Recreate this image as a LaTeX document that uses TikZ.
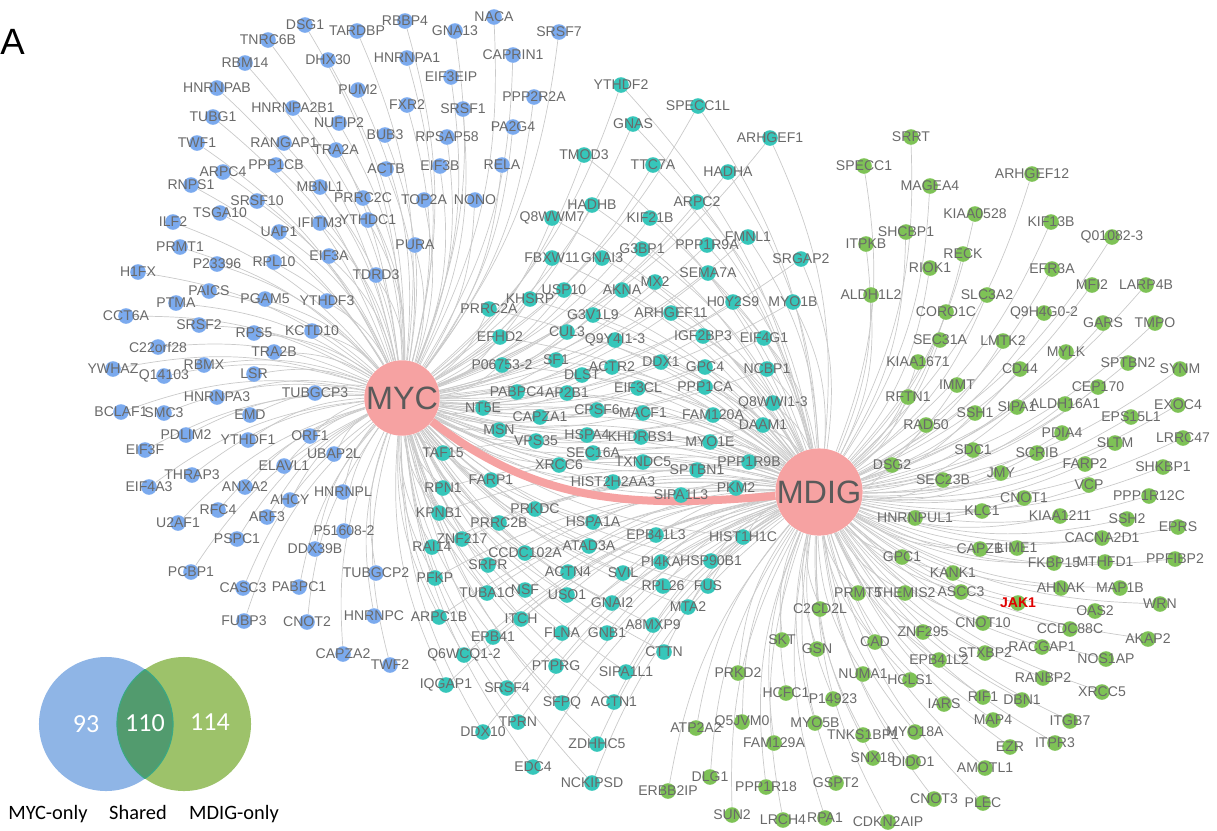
\documentclass[tikz,border=0pt]{standalone}
\usepackage{fontspec}
\setmainfont{Liberation Sans}
\newfontfamily\vennfont{Carlito}
\pgfdeclarelayer{background}
\pgfsetlayers{background,main}
\definecolor{mycblue}{HTML}{7BAAEE}
\definecolor{sharedteal}{HTML}{36C6BA}
\definecolor{mdiggreen}{HTML}{7EC256}
\definecolor{hubpink}{HTML}{F6A2A2}
\definecolor{hubtext}{HTML}{5A5A5A}
\definecolor{labelgray}{HTML}{6A6A6A}
\definecolor{edgegray}{HTML}{CACACA}
\definecolor{jakred}{HTML}{E00000}
\definecolor{vennblue}{HTML}{8FB5E6}
\definecolor{venngreen}{HTML}{9DC26A}
\definecolor{vennshared}{HTML}{529B6E}
\definecolor{vennrim}{HTML}{3AA884}
\tikzset{
  protein/.style={circle, inner sep=0pt, minimum size=0.39cm},
  myconly/.style={protein, fill=mycblue},
  shared/.style={protein, fill=sharedteal},
  mdigonly/.style={protein, fill=mdiggreen},
  lbl/.style={text=labelgray, inner sep=0pt},
  hub/.style={circle, fill=hubpink, text=hubtext, inner sep=0pt, font=\fontsize{23}{26}\selectfont},
  conn/.style={draw=edgegray, line width=0.5pt},
  link/.style={draw=hubpink, line width=0.2cm},
  venntext/.style={font=\vennfont\fontsize{18.5}{22}\selectfont, text=white, inner sep=0pt},
  vennlabel/.style={font=\vennfont\fontsize{14.5}{17}\selectfont, inner sep=0pt, anchor=base},
}
% partner lists: gene/x/y in pixels of the original figure
\def\myconlylist{DSG1/305/25, TNRC6B/268/40, TARDBP/357/31, RBBP4/405/21, GNA13/455/31, NACA/494/17, SRSF7/559/32, RBM14/245/63, DHX30/328/60, HNRNPA1/407/58, CAPRIN1/513/55, HNRNPAB/217/88, EIF3EIP/451/77, PUM2/358/90, TUBG1/213/117, HNRNPA2B1/293/108, FXR2/407/105, SRSF1/463/109, PPP2R2A/534/97, NUFIP2/339/123, TWF1/197/143, RANGAP1/284/143, BUB3/385/135, RPSAP58/447/137, PA2G4/513/127, ARPC4/223/172, PPP1CB/276/165, TRA2A/336/150, ACTB/386/169, EIF3B/440/166, RELA/502/165, RNPS1/191/185, SRSF10/257/201, MBNL1/320/187, PRRC2C/363/198, TOP2A/424/200, NONO/475/200, TSGA10/220/213, ILF2/173/222, UAP1/279/232, IFITM3/320/223, YTHDC1/368/220, PRMT1/180/247, PURA/415/245, RPL10/274/262, EIF3A/329/256, P23396/217/264, H1FX/138/272, TDRD3/376/275, PAICS/209/291, PGAM5/265/299, YTHDF3/327/301, PTMA/176/303, CCT6A/126/316, SRSF2/199/325, RPS5/254/333, KCTD10/312/331, C22orf28/158/347, TRA2B/274/352, YWHAZ/113/369, RBMX/204/365, Q14103/164/376, LSR/254/374, HNRNPA3/217/397, TUBGCP3/315/393, BCLAF1/121/412, SMC3/164/413, EMD/250/415, PDLIM2/186/435, YTHDF1/248/440, ORF1/310/436, EIF3F/145/450, UBAP2L/334/454, ELAVL1/284/466, THRAP3/192/475, EIF4A3/149/487, ANXA2/245/487, AHCY/290/500, HNRNPL/343/492, RFC4/218/510, ARF3/267/517, U2AF1/178/523, P51608-2/344/531, PSPC1/237/539, DDX39B/315/549, PCBP1/191/572, CASC3/243/588, PABPC1/299/587, TUBGCP2/376/573, FUBP3/244/621, CNOT2/307/622, HNRNPC/374/616, CAPZA2/343/654, TWF2/390/665}
\def\sharedlist{YTHDF2/621/85, SPECC1L/698/106, GNAS/633/124, ARHGEF1/770/138, TMOD3/584/155, TTC7A/653/165, HADHA/728/172, ARPC2/697/202, HADHB/592/205, KIF21B/650/218, Q8WWM7/552/218, FMNL1/748/237, PPP1R9A/707/245, G3BP1/642/249, FBXW11/552/258, GNAI3/602/258, SRGAP2/801/259, SEMA7A/708/273, MX2/655/282, AKNA/622/290, USP10/564/290, KHSRP/530/299, H0Y2S9/733/302, MYO1B/793/302, PRRC2A/489/309, ARHGEF11/671/313, G3V1L9/593/315, CUL3/567/332, EFHD2/500/337, IGF2BP3/703/336, EIF4G1/764/338, Q9Y4I1-3/615/340, SF1/556/360, DDX1/661/362, P06753-2/502/365, ACTR2/612/367, GPC4/705/367, NCBP1/767/369, DLST/582/375, PPP1CA/705/387, EIF3CL/638/388, PABPC4/517/392, AP2B1/567/393, Q8WWI1-3/773/403, NT5E/483/408, CPSF6/597/410, MACF1/643/413, FAM120A/713/415, CAPZA1/540/417, DAAM1/763/425, MSN/499/430, HSPA4/587/435, KHDRBS1/641/437, VPS35/536/441, MYO1E/710/442, SEC16A/593/453, TAF15/443/453, PPP1R9B/749/462, TXNDC5/643/462, XRCC6/559/465, SPTBN1/697/470, FARP1/491/480, HIST2H2AA3/613/482, RPN1/443/488, PKM2/736/488, SIPA1L3/681/495, PRKDC/535/509, KPNB1/439/513, HSPA1A/593/522, PRRC2B/499/523, EPB41L3/656/535, HIST1H1C/743/537, ZNF217/462/539, ATAD3A/589/546, RAI14/432/547, CCDC102A/525/553, HSP90B1/711/561, PI4KA/661/562, SRPR/488/565, ACTN4/568/572, SVIL/623/573, PFKP/435/578, RPL26/663/586, FUS/708/586, NSF/525/590, TUBA1C/487/593, USO1/567/595, GNAI2/612/603, MTA2/688/607, ARPC1B/439/617, ITCH/521/619, A8MXP9/653/625, GNB1/607/633, FLNA/562/633, EPB41/493/637, CTTN/664/652, Q6WCQ1-2/464/655, PTPRG/556/666, SIPA1L1/626/672, IQGAP1/446/685, SRSF4/507/688, ACTN1/614/702, SFPQ/562/703, TPRN/518/722, DDX10/483/732, ZDHHC5/597/744, EDC4/533/767, NCKIPSD/592/783}
\def\mdigonlylist{SRRT/911/137, SPECC1/864/166, ARHGEF12/1032/174, MAGEA4/930/186, KIAA0528/975/214, KIF13B/1051/222, SHCBP1/906/232, Q01082-3/1112/237, ITPKB/866/244, RECK/963/254, RIOK1/930/268, EFR3A/1052/269, MFI2/1092/285, LARP4B/1146/285, ALDH1L2/871/295, SLC3A2/987/295, CORO1C/946/312, Q9H4G0-2/1044/313, GARS/1103/323, TMPO/1155/323, SEC31A/940/340, LMTK2/1003/341, MYLK/1066/352, KIAA1671/918/362, SPTBN2/1128/363, SYNM/1180/369, CD44/1020/369, IMMT/957/385, CEP170/1098/387, RFTN1/908/397, ALDH16A1/1065/404, EXOC4/1178/405, SIPA1/1017/407, SSH1/975/413, EPS15L1/1131/417, RAD50/926/425, PDIA4/1062/433, LRRC47/1183/438, SLTM/1115/443, SDC1/973/450, SCRIB/1037/453, FARP2/1085/464, DSG2/892/465, SHKBP1/1163/467, JMY/1001/473, SEC23B/943/480, VCP/1089/485, PPP1R12C/1149/496, CNOT1/1024/498, KLC1/982/511, KIAA1211/1060/516, HNRNPUL1/915/518, SSH2/1127/519, EPRS/1178/527, CACNA2D1/1102/538, LIME1/1017/548, CAPZB/980/549, GPC1/902/557, PPFIBP2/1175/559, MTHFD1/1105/562, FKBP15/1054/563, KANK1/953/573, AHNAK/1061/588, MAP1B/1120/588, ASCC3/961/592, THEMIS2/905/593, PRMT5/858/593, WRN/1160/604, C2CD2L/820/609, OAS2/1095/611, CNOT10/983/623, CCDC88C/1070/629, ZNF295/923/632, AKAP2/1148/639, SKT/782/640, CAD/875/642, RACGAP1/1042/647, GSN/817/649, STXBP2/985/653, NOS1AP/1106/659, EPB41L2/939/660, PRKD2/738/673, NUMA1/863/674, RANBP2/1043/678, HCLS1/910/680, XRCC5/1102/692, HCFC1/786/693, RIF1/983/697, P14923/833/699, DBN1/1022/700, IARS/944/704, MAP4/993/720, ITGB7/1070/721, Q5JVM0/742/722, MYO5B/815/723, ATP2A2/696/728, MYO18A/915/732, TNKS1BP1/863/735, ITPR3/1055/743, FAM129A/774/743, EZR/1010/747, SNX18/873/758, DIDO1/913/762, AMOTL1/985/768, DLG1/710/777, GSPT2/836/783, PPP1R18/766/787, ERBB2IP/668/791, CNOT3/934/799, PLEC/983/803, SUN2/732/815, RPA1/825/818, LRCH4/783/820, CDKN2AIP/888/822}
\begin{document}
\begin{tikzpicture}[x=0.025cm, y=0.025cm, font=\fontsize{10}{12}\selectfont, line join=round, line cap=round]
\useasboundingbox (0,0) rectangle (1217,-830);
\node[anchor=west, inner sep=0pt, font=\fontsize{26}{30}\selectfont] (panel) at (0,-42) {A};
% hubs
\node[hub, minimum size=1.85cm] (MYC) at (402,-398) {MYC};
\node[hub, minimum size=2.1cm] (MDIG) at (819,-492) {MDIG};
% partners
\foreach \gene/\x/\y [count=\i] in \myconlylist
  \node[myconly, label={[lbl]center:\gene}] (b\i) at (\x,-\y) {};
\foreach \gene/\x/\y [count=\i] in \sharedlist
  \node[shared, label={[lbl]center:\gene}] (s\i) at (\x,-\y) {};
\foreach \gene/\x/\y [count=\i] in \mdigonlylist
  \node[mdigonly, label={[lbl]center:\gene}] (g\i) at (\x,-\y) {};
\node[mdigonly, label={[lbl, text=jakred, font=\bfseries]center:JAK1}] (JAK1) at (1018,-603) {};
% interactions
\begin{pgfonlayer}{background}
  \foreach \gene/\x/\y [count=\i] in \myconlylist
    \draw[conn] (MYC) to[bend right=15] (b\i);
  \foreach \gene/\x/\y [count=\i] in \sharedlist {
    \draw[conn] (MYC) to[bend right=15] (s\i);
    \draw[conn] (MDIG) to[bend right=15] (s\i);
  }
  \foreach \gene/\x/\y [count=\i] in \mdigonlylist
    \draw[conn] (MDIG) to[bend right=15] (g\i);
  \draw[conn] (MDIG) to[bend right=15] (JAK1);
  \draw[link] (MYC) to[out=-38, in=185] (MDIG);
\end{pgfonlayer}
% Venn diagram
\fill[vennblue] (106,-724) circle[radius=1.675cm];
\fill[venngreen] (184,-724) circle[radius=1.675cm];
\begin{scope}
  \clip (106,-724) circle[radius=1.675cm];
  \fill[vennshared] (184,-724) circle[radius=1.675cm];
  \draw[vennrim, line width=0.8pt] (184,-724) circle[radius=1.675cm];
\end{scope}
\begin{scope}
  \clip (184,-724) circle[radius=1.675cm];
  \draw[vennrim, line width=0.8pt] (106,-724) circle[radius=1.675cm];
\end{scope}
\node[venntext] (nmyc) at (86,-724) {93};
\node[venntext] (nshared) at (145,-723) {110};
\node[venntext] (nmdig) at (210,-722) {114};
\node[vennlabel] (lmyc) at (48,-819) {MYC-only};
\node[vennlabel] (lshared) at (138,-819) {Shared};
\node[vennlabel] (lmdig) at (234,-819) {MDIG-only};
\end{tikzpicture}
\end{document}
